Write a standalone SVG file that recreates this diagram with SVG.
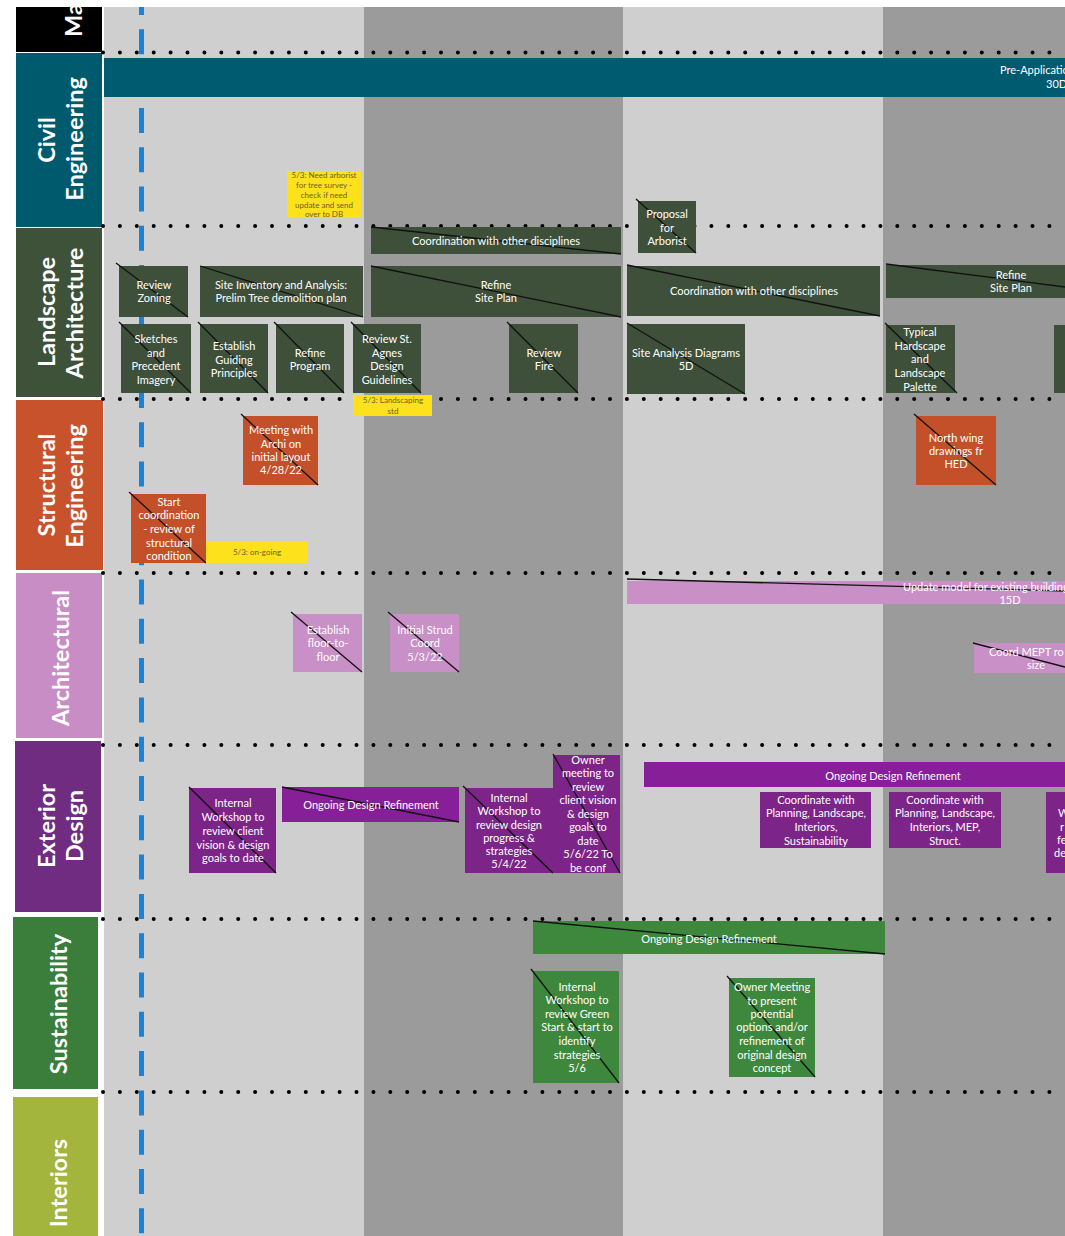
<svg xmlns="http://www.w3.org/2000/svg" width="1065" height="1236" viewBox="0 0 1065 1236">
<style>
.t{font-family:Lato,"Open Sans","Liberation Sans",sans-serif;font-size:11px;fill:#fff;text-anchor:middle}
.ts{text-anchor:start}
.h{font-family:Lato,"Open Sans","Liberation Sans",sans-serif;font-size:23.5px;font-weight:bold;fill:#fff;text-anchor:middle}
.n{font-family:Lato,"Liberation Sans",sans-serif;font-size:8px;fill:#6e5f23;text-anchor:middle}
.d{stroke:#111;stroke-width:1.3}
.la{fill:#3e5039}
.st{fill:#c4502a}
.ar{fill:#c98fc7}
.ex{fill:#7d2489}
.exb{fill:#861f98}
.su{fill:#3d883d}
.note{fill:#fde11d}
.dots{stroke:#000;stroke-width:4;stroke-dasharray:0 16.9;stroke-linecap:round}
</style>
<rect x="0" y="0" width="1065" height="1236" fill="#fff"/>
<g id="background">
<rect x="104" y="7" width="260" height="1229" fill="#cfcfcf"/>
<rect x="364" y="7" width="259" height="1229" fill="#9b9b9b"/>
<rect x="623" y="7" width="260" height="1229" fill="#cfcfcf"/>
<rect x="883" y="7" width="182" height="1229" fill="#9b9b9b"/>
</g>
<g id="headers">
<g id="lane-ma"><rect x="16" y="7" width="86" height="45" fill="#000"/><text class="h" style="text-anchor:start" transform="translate(82,37) rotate(-90)">Ma</text></g>
<g id="lane-civil"><rect x="16" y="53" width="86" height="174" fill="#005a6e"/><text class="h" transform="translate(54.5,140) rotate(-90)">Civil</text><text class="h" transform="translate(82.5,139) rotate(-90)">Engineering</text></g>
<g id="lane-landscape"><rect x="16" y="228" width="86" height="169" fill="#3e5139"/><text class="h" transform="translate(54.5,312) rotate(-90)">Landscape</text><text class="h" transform="translate(82.5,313) rotate(-90)">Architecture</text></g>
<g id="lane-structural"><rect x="16" y="400" width="87" height="170" fill="#c8522b"/><text class="h" transform="translate(54.5,485) rotate(-90)">Structural</text><text class="h" transform="translate(82.5,486) rotate(-90)">Engineering</text></g>
<g id="lane-architectural"><rect x="16" y="573" width="86" height="165" fill="#c88dc5"/><text class="h" transform="translate(68.5,658) rotate(-90)">Architectural</text></g>
<g id="lane-exterior"><rect x="15" y="741" width="86" height="171" fill="#6f2c80"/><text class="h" transform="translate(54.5,826) rotate(-90)">Exterior</text><text class="h" transform="translate(82.5,826) rotate(-90)">Design</text></g>
<g id="lane-sustainability"><rect x="13" y="917" width="85" height="172" fill="#3b7d3b"/><text class="h" transform="translate(66.5,1004) rotate(-90)">Sustainability</text></g>
<g id="lane-interiors"><rect x="13" y="1097" width="85" height="139" fill="#a3b53c"/><text class="h" transform="translate(66.5,1183) rotate(-90)">Interiors</text></g>
</g>
<g id="guides">
<line class="dots" x1="103" y1="52.5" x2="1065" y2="52.5"/>
<line class="dots" x1="103" y1="226" x2="1065" y2="226"/>
<line class="dots" x1="103" y1="399" x2="1065" y2="399"/>
<line class="dots" x1="103" y1="573" x2="1065" y2="573"/>
<line class="dots" x1="103" y1="745" x2="1065" y2="745"/>
<line class="dots" x1="103" y1="919" x2="1065" y2="919"/>
<line class="dots" x1="103" y1="1092" x2="1065" y2="1092"/>
<line x1="141.5" y1="7" x2="141.5" y2="1236" stroke="#1b82d6" stroke-width="5" stroke-dasharray="25 14.3" stroke-dashoffset="17"/>
</g>
<g id="connectors"></g>
<g id="nodes">
<g id="civil-preapp"><rect x="104" y="58" width="961" height="39" fill="#005b70"/><text class="t ts" x="1000" y="74">Pre-Application</text><text class="t ts" x="1046" y="88">30D</text></g>
<g id="note-arborist"><rect class="note" x="287" y="171" width="74" height="46"/><text class="n"><tspan x="324" y="178">5/3: Need arborist</tspan><tspan x="324" y="188">for tree survey -</tspan><tspan x="324" y="198">check if need</tspan><tspan x="324" y="208">update and send</tspan><tspan x="324" y="217">over to DB</tspan></text></g>

<g id="la-coord-1"><rect class="la" x="371" y="227" width="250" height="27"/><line class="d" x1="371" y1="227" x2="621" y2="254"/><text class="t" x="496" y="245">Coordination with other disciplines</text></g>
<g id="la-proposal"><rect class="la" x="638" y="201" width="58" height="52"/><line class="d" x1="636" y1="199" x2="696" y2="253"/><text class="t"><tspan x="667" y="218">Proposal</tspan><tspan x="667" y="232">for</tspan><tspan x="667" y="245">Arborist</tspan></text></g>
<g id="la-review-zoning"><rect class="la" x="119" y="266" width="69" height="51"/><line class="d" x1="116" y1="263" x2="188" y2="317"/><text class="t"><tspan x="154" y="289">Review</tspan><tspan x="154" y="302">Zoning</tspan></text></g>
<g id="la-site-inventory"><rect class="la" x="200" y="266" width="163" height="51"/><line class="d" x1="200" y1="266" x2="363" y2="317"/><text class="t"><tspan x="281" y="289">Site Inventory and Analysis:</tspan><tspan x="281" y="302">Prelim Tree demolition plan</tspan></text></g>
<g id="la-refine-site-1"><rect class="la" x="371" y="266" width="250" height="51"/><line class="d" x1="371" y1="266" x2="621" y2="317"/><text class="t"><tspan x="496" y="289">Refine</tspan><tspan x="496" y="302">Site Plan</tspan></text></g>
<g id="la-coord-2"><rect class="la" x="627" y="266" width="253" height="50"/><line class="d" x1="627" y1="265" x2="880" y2="316"/><text class="t" x="754" y="295">Coordination with other disciplines</text></g>
<g id="la-refine-site-2"><rect class="la" x="886" y="265" width="179" height="33"/><line class="d" x1="886" y1="264" x2="1065" y2="287"/><text class="t"><tspan x="1011" y="279">Refine</tspan><tspan x="1011" y="292">Site Plan</tspan></text></g>
<g id="la-sketches"><rect class="la" x="121" y="324" width="70" height="69"/><line class="d" x1="119" y1="322" x2="191" y2="393"/><text class="t"><tspan x="156" y="343">Sketches</tspan><tspan x="156" y="357">and</tspan><tspan x="156" y="370">Precedent</tspan><tspan x="156" y="384">Imagery</tspan></text></g>
<g id="la-guiding"><rect class="la" x="200" y="324" width="68" height="69"/><line class="d" x1="198" y1="322" x2="268" y2="393"/><text class="t"><tspan x="234" y="350">Establish</tspan><tspan x="234" y="364">Guiding</tspan><tspan x="234" y="377">Principles</tspan></text></g>
<g id="la-refine-program"><rect class="la" x="276" y="324" width="68" height="69"/><line class="d" x1="274" y1="322" x2="344" y2="393"/><text class="t"><tspan x="310" y="357">Refine</tspan><tspan x="310" y="370">Program</tspan></text></g>
<g id="la-st-agnes"><rect class="la" x="353" y="324" width="68" height="69"/><line class="d" x1="351" y1="322" x2="421" y2="393"/><text class="t"><tspan x="387" y="343">Review St.</tspan><tspan x="387" y="357">Agnes</tspan><tspan x="387" y="370">Design</tspan><tspan x="387" y="384">Guidelines</tspan></text></g>
<g id="note-landscaping"><rect class="note" x="353" y="395" width="79" height="21"/><text class="n"><tspan x="393" y="403">5/3: Landscaping</tspan><tspan x="393" y="414">std</tspan></text></g>
<g id="la-review-fire"><rect class="la" x="509" y="324" width="69" height="69"/><line class="d" x1="507" y1="322" x2="578" y2="393"/><text class="t"><tspan x="544" y="357">Review</tspan><tspan x="544" y="370">Fire</tspan></text></g>
<g id="la-site-analysis"><rect class="la" x="627" y="324" width="118" height="70"/><line class="d" x1="627" y1="323" x2="745" y2="394"/><text class="t"><tspan x="686" y="357">Site Analysis Diagrams</tspan><tspan x="686" y="370">5D</tspan></text></g>
<g id="la-hardscape"><rect class="la" x="886" y="325" width="69" height="68"/><line class="d" x1="885" y1="323" x2="957" y2="393"/><text class="t"><tspan x="920" y="336">Typical</tspan><tspan x="920" y="350">Hardscape</tspan><tspan x="920" y="363">and</tspan><tspan x="920" y="377">Landscape</tspan><tspan x="920" y="391">Palette</tspan></text></g>
<g id="la-partial"><rect class="la" x="1054" y="325" width="11" height="68"/></g>

<g id="st-meeting-archi"><rect class="st" x="243" y="416" width="75" height="69"/><line class="d" x1="241" y1="414" x2="318" y2="485"/><text class="t"><tspan x="281" y="434">Meeting with</tspan><tspan x="281" y="448">Archi on</tspan><tspan x="281" y="461">initial layout</tspan><tspan x="281" y="474">4/28/22</tspan></text></g>
<g id="st-start-coord"><rect class="st" x="131" y="494" width="75" height="69"/><line class="d" x1="129" y1="492" x2="206" y2="563"/><text class="t"><tspan x="169" y="506">Start</tspan><tspan x="169" y="519">coordination</tspan><tspan x="169" y="533">- review of</tspan><tspan x="169" y="547">structural</tspan><tspan x="169" y="560">condition</tspan></text></g>
<g id="note-ongoing"><rect class="note" x="206" y="541" width="102" height="22"/><text class="n" x="257" y="555">5/3: on-going</text></g>
<g id="st-north-wing"><rect class="st" x="916" y="416" width="80" height="69"/><line class="d" x1="914" y1="414" x2="996" y2="485"/><text class="t"><tspan x="956" y="442">North wing</tspan><tspan x="956" y="455">drawings fr</tspan><tspan x="956" y="468">HED</tspan></text></g>

<g id="ar-update-model"><rect class="ar" x="627" y="581" width="438" height="23"/><line class="d" x1="627" y1="579" x2="1065" y2="591"/><text class="t ts" x="903" y="591">Update model for existing building</text><text class="t" x="1010" y="604">15D</text></g>
<g id="ar-floor"><rect class="ar" x="293" y="614" width="69" height="58"/><line class="d" x1="291" y1="612" x2="362" y2="672"/><text class="t"><tspan x="328" y="634">Establish</tspan><tspan x="328" y="647">floor-to-</tspan><tspan x="328" y="661">floor</tspan></text></g>
<g id="ar-strud"><rect class="ar" x="390" y="614" width="69" height="58"/><line class="d" x1="388" y1="612" x2="459" y2="672"/><text class="t"><tspan x="425" y="634">Initial Strud</tspan><tspan x="425" y="647">Coord</tspan><tspan x="425" y="661">5/3/22</tspan></text></g>
<g id="ar-mept"><rect class="ar" x="974" y="643" width="91" height="30"/><line class="d" x1="973" y1="643" x2="1065" y2="667"/><text class="t ts" x="989" y="656">Coord MEPT   ro</text><text class="t" x="1036" y="669">size</text></g>

<g id="ex-workshop-1"><rect class="ex" x="189" y="788" width="87" height="85"/><line class="d" x1="189" y1="787" x2="276" y2="873"/><text class="t"><tspan x="233" y="807">Internal</tspan><tspan x="233" y="821">Workshop to</tspan><tspan x="233" y="835">review client</tspan><tspan x="233" y="849">vision &amp; design</tspan><tspan x="233" y="862">goals to date</tspan></text></g>
<g id="ex-ongoing-1"><rect class="exb" x="282" y="787" width="177" height="35"/><line class="d" x1="282" y1="787" x2="459" y2="822"/><text class="t" x="371" y="809">Ongoing Design Refinement</text></g>
<g id="ex-workshop-2"><rect class="ex" x="465" y="788" width="88" height="85"/><line class="d" x1="463" y1="786" x2="553" y2="873"/><text class="t"><tspan x="509" y="802">Internal</tspan><tspan x="509" y="815">Workshop to</tspan><tspan x="509" y="829">review design</tspan><tspan x="509" y="842">progress &amp;</tspan><tspan x="509" y="855">strategies</tspan><tspan x="509" y="868">5/4/22</tspan></text></g>
<g id="ex-owner-meeting"><rect class="ex" x="553" y="755" width="67" height="118"/><line class="d" x1="553" y1="754" x2="620" y2="873"/><text class="t"><tspan x="588" y="764">Owner</tspan><tspan x="588" y="777">meeting to</tspan><tspan x="588" y="791">review</tspan><tspan x="588" y="804">client vision</tspan><tspan x="588" y="818">&amp; design</tspan><tspan x="588" y="831">goals to</tspan><tspan x="588" y="845">date</tspan><tspan x="588" y="858">5/6/22 To</tspan><tspan x="588" y="872">be conf</tspan></text></g>
<g id="ex-ongoing-2"><rect class="exb" x="644" y="762" width="421" height="25"/><text class="t" x="893" y="780">Ongoing Design Refinement</text></g>
<g id="ex-coordinate-1"><rect class="ex" x="760" y="792" width="111" height="56"/><text class="t"><tspan x="816" y="804">Coordinate with</tspan><tspan x="816" y="817">Planning, Landscape,</tspan><tspan x="816" y="831">Interiors,</tspan><tspan x="816" y="845">Sustainability</tspan></text></g>
<g id="ex-coordinate-2"><rect class="ex" x="889" y="792" width="112" height="56"/><text class="t"><tspan x="945" y="804">Coordinate with</tspan><tspan x="945" y="817">Planning, Landscape,</tspan><tspan x="945" y="831">Interiors, MEP,</tspan><tspan x="945" y="845">Struct.</tspan></text></g>
<g id="ex-partial"><rect class="ex" x="1046" y="792" width="19" height="81"/><text class="t ts"><tspan x="1058" y="817">W</tspan><tspan x="1060" y="831">r</tspan><tspan x="1057" y="844">fe</tspan><tspan x="1054" y="857">de</tspan></text></g>

<g id="su-ongoing"><rect class="su" x="533" y="921" width="352" height="33"/><line class="d" x1="533" y1="921" x2="885" y2="954"/><text class="t" x="709" y="943">Ongoing Design Refinement</text></g>
<g id="su-workshop"><rect class="su" x="533" y="971" width="86" height="112"/><line class="d" x1="531" y1="969" x2="619" y2="1083"/><text class="t"><tspan x="577" y="991">Internal</tspan><tspan x="577" y="1004">Workshop to</tspan><tspan x="577" y="1018">review Green</tspan><tspan x="577" y="1031">Start &amp; start to</tspan><tspan x="577" y="1045">identify</tspan><tspan x="577" y="1059">strategies</tspan><tspan x="577" y="1072">5/6</tspan></text></g>
<g id="su-owner-meeting"><rect class="su" x="729" y="978" width="86" height="99"/><line class="d" x1="727" y1="976" x2="815" y2="1077"/><text class="t"><tspan x="772" y="991">Owner Meeting</tspan><tspan x="772" y="1005">to present</tspan><tspan x="772" y="1018">potential</tspan><tspan x="772" y="1031">options and/or</tspan><tspan x="772" y="1045">refinement of</tspan><tspan x="772" y="1059">original design</tspan><tspan x="772" y="1072">concept</tspan></text></g>
</g>
</svg>
